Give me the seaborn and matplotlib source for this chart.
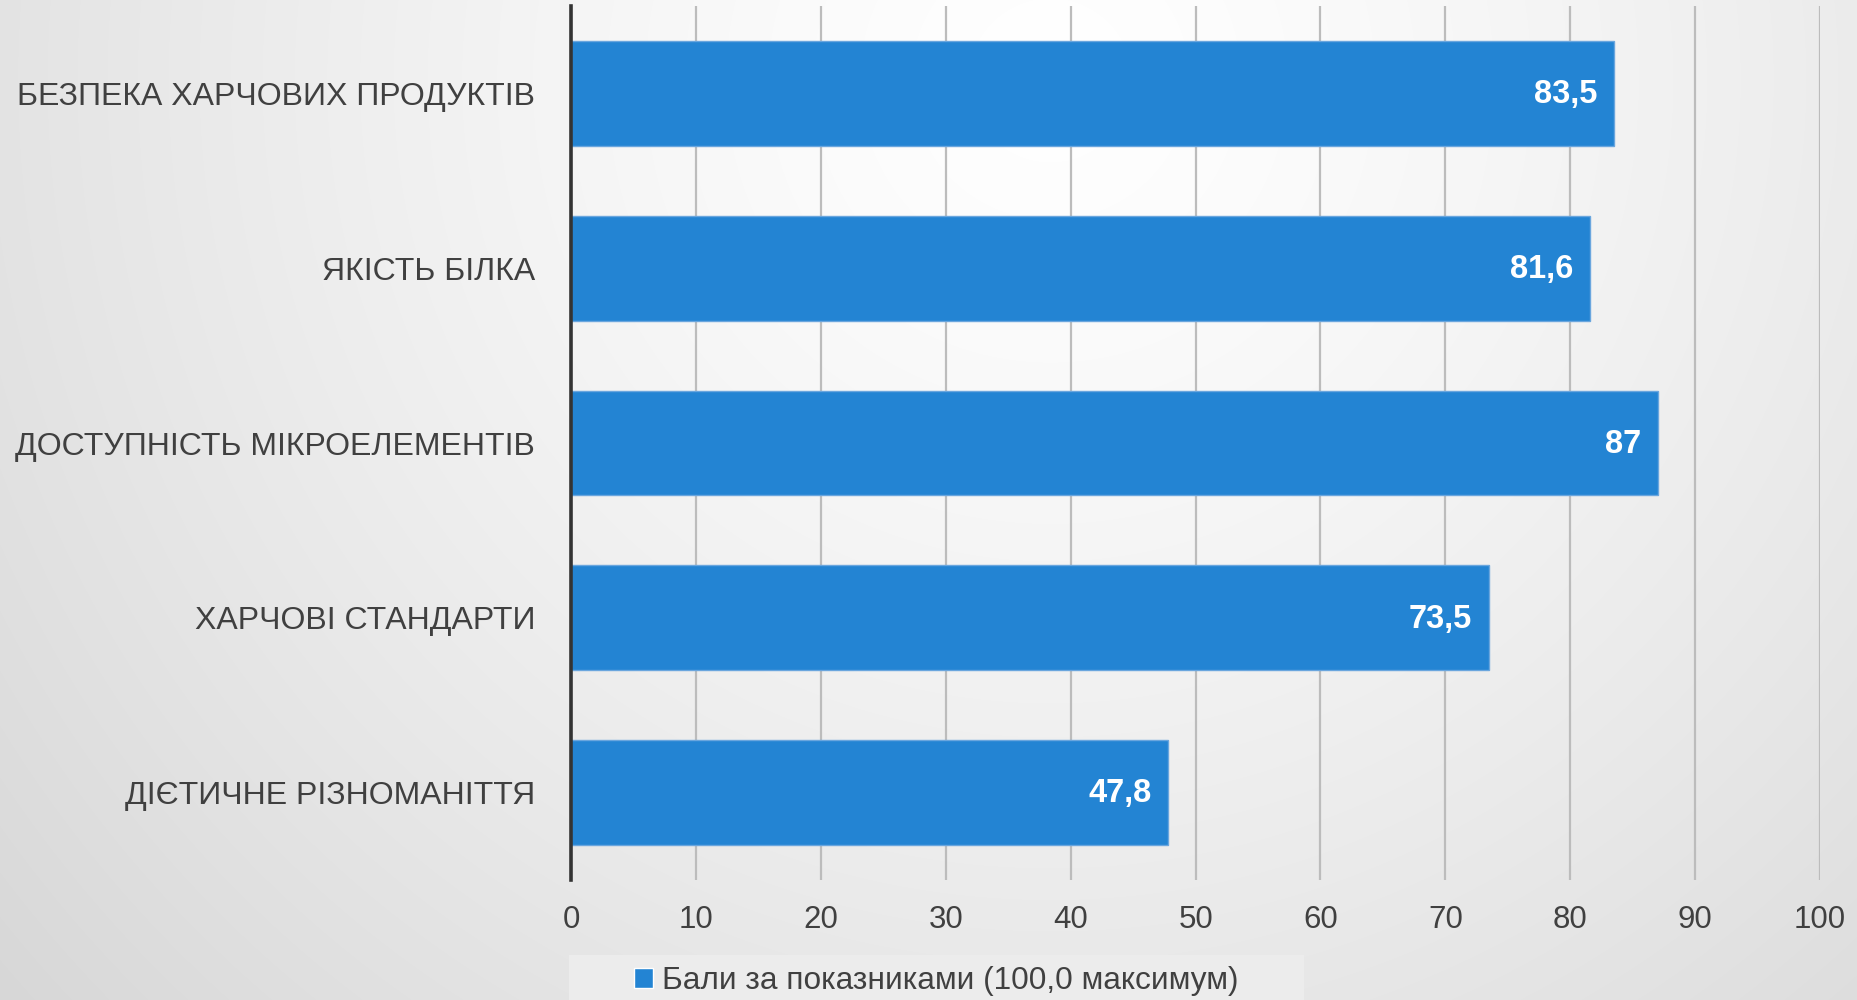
import numpy as np
import matplotlib
matplotlib.use("Agg")
import matplotlib.pyplot as plt
from matplotlib.patches import Patch, Rectangle
import seaborn as sns

# data
categories = [
    "БЕЗПЕКА ХАРЧОВИХ ПРОДУКТІВ",
    "ЯКІСТЬ БІЛКА",
    "ДОСТУПНІСТЬ МІКРОЕЛЕМЕНТІВ",
    "ХАРЧОВІ СТАНДАРТИ",
    "ДІЄТИЧНЕ РІЗНОМАНІТТЯ",
]
scores = [83.5, 81.6, 87, 73.5, 47.8]
x_ticks = [0, 10, 20, 30, 40, 50, 60, 70, 80, 90, 100]
legend_label = "Бали за показниками (100,0 максимум)"

bar_color = "#2384d3"
text_color = "#404040"

sns.set_style("white")
plt.rcParams["font.family"] = ["Liberation Sans", "DejaVu Sans"]

fig = plt.figure(figsize=(18.58, 10), dpi=100)

# radial grey background, light near the top centre
bg = fig.add_axes([0, 0, 1, 1], zorder=0)
yy, xx = np.mgrid[0:1000, 0:1858]
r = np.hypot(xx - 1050, yy - 80)
shade = np.clip(1.0 - 0.115 * (r / 1100) ** 1.3, 0.84, 1.0)
rgb = np.dstack([shade, shade, shade])
bg.imshow(rgb, aspect="auto", extent=[0, 1, 0, 1], origin="upper")
bg.set_axis_off()

# legend box strip at the bottom
fig.patches.append(Rectangle((0.306, 0.0), 0.396, 0.045, transform=fig.transFigure,
                             facecolor="#ececec", edgecolor="none", zorder=1))

ax = fig.add_axes([0.3075, 0.12, 0.672, 0.874], zorder=2)
ax.patch.set_alpha(0)

sns.barplot(x=scores, y=categories, orient="h", color=bar_color, saturation=1,
            width=0.6, edgecolor="#6aa6de", linewidth=1, ax=ax)

for i, v in enumerate(scores):
    label = f"{v:g}".replace(".", ",")
    ax.annotate(label, xy=(v, i), xytext=(-12, -1), textcoords="offset points",
                ha="right", va="center", color="white", fontsize=23.5,
                fontweight="bold")

ax.set_xlim(0, 100)
ax.set_ylim(4.5, -0.5)
ax.set_xticks(x_ticks)
ax.set_xticklabels([str(t) for t in x_ticks])
ax.xaxis.grid(True, color="#bcbcbc", linewidth=1.6)
ax.yaxis.grid(False)
ax.set_axisbelow(True)
for s in ["top", "right", "bottom"]:
    ax.spines[s].set_visible(False)
ax.spines["left"].set_color("#333333")
ax.spines["left"].set_linewidth(2.6)
ax.tick_params(axis="x", length=0, pad=18, labelsize=22.5, labelcolor=text_color)
ax.tick_params(axis="y", length=0, pad=26, labelsize=23, labelcolor=text_color)
ax.set_xlabel("")
ax.set_ylabel("")

fig.legend(handles=[Patch(facecolor=bar_color)], labels=[legend_label],
           loc="center", bbox_to_anchor=(0.504, 0.019), frameon=False,
           handlelength=0.6, handleheight=0.6, handletextpad=0.3,
           fontsize=22.8, labelcolor=text_color)

fig.savefig("out.png", dpi=100)
